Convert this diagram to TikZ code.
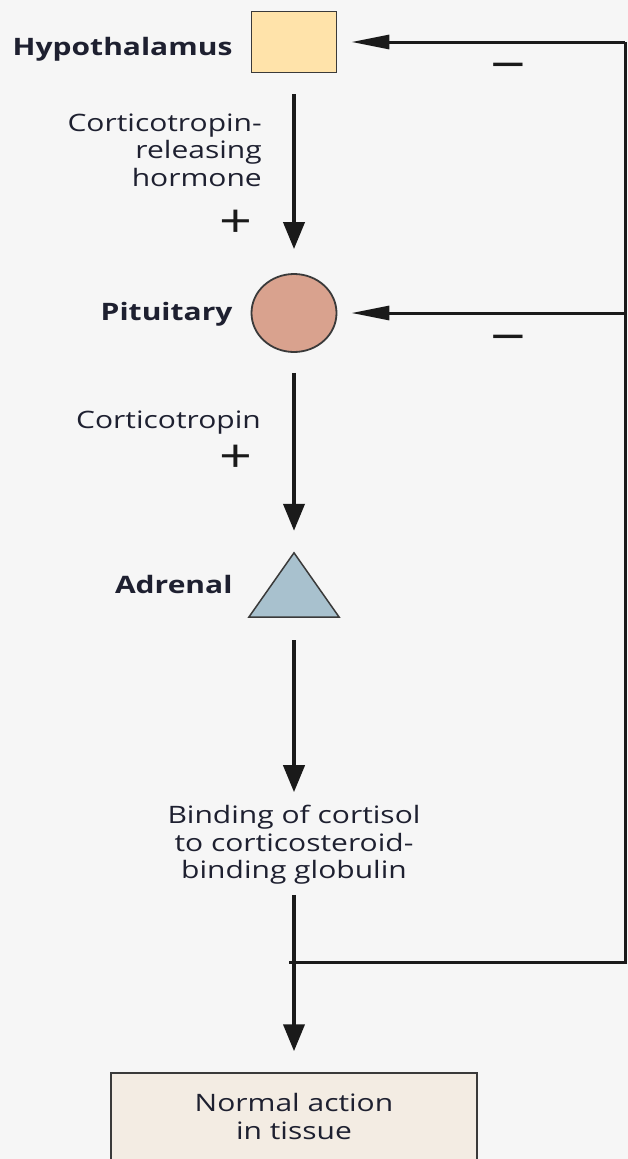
\documentclass[tikz,border=0pt]{standalone}
\usepackage{fontspec}
\setmainfont{Open Sans}[FakeStretch=1.25]
\usetikzlibrary{arrows.meta,shapes.geometric}
\definecolor{bg}{HTML}{F6F6F6}
\definecolor{txt}{HTML}{1E2030}
\definecolor{hypfill}{HTML}{FFE3AA}
\definecolor{pitfill}{HTML}{D9A28E}
\definecolor{adrfill}{HTML}{A8C1CE}
\definecolor{boxfill}{HTML}{F3ECE3}
\definecolor{edge}{HTML}{3A3A3A}
\definecolor{arr}{HTML}{1A1A1A}
\tikzset{
  organ/.style={draw=edge, line width=1.8pt, inner sep=0pt},
  organlabel/.style={anchor=base east, text=txt, font=\fontsize{24}{27.5}\selectfont\bfseries},
  hormone/.style={text=txt, font=\fontsize{24}{27.5}\selectfont, inner sep=0pt},
  sign/.style={text=arr, font=\fontsize{46}{46}\selectfont, inner sep=0pt},
  minussign/.style={text=arr, font=\fontsize{50}{50}\selectfont, inner sep=0pt},
  mainarrow/.style={draw=arr, line width=4pt, -{Triangle[width=21pt,length=27pt]}},
  fbline/.style={draw=arr, line width=3pt},
  fbarrow/.style={draw=arr, line width=3pt, -{Triangle[width=14pt,length=38pt]}},
}
\begin{document}
\begin{tikzpicture}[x=1pt,y=-1pt]
\useasboundingbox[fill=bg] (0,0) rectangle (628,1159);
% organs
\node[organ, fill=hypfill, rectangle, minimum width=85pt, minimum height=61pt] (hyp) at (294,42) {};
\node[organ, fill=pitfill, ellipse, minimum width=85pt, minimum height=78pt] (pit) at (294,313) {};
\node[inner sep=0pt, minimum width=90pt, minimum height=64pt] (adr) at (294,585) {};
\draw[fill=adrfill, draw=edge, line width=1.5pt, line join=miter] (adr.south west) -- (adr.south east) -- (adr.north) -- cycle;
\node[draw=edge, line width=1.5pt, fill=boxfill, rectangle, minimum width=366pt, minimum height=90pt, inner sep=0pt] (tissue) at (294,1118) {};
% labels
\node[organlabel] (hyplab) at (236,55) {Hypothalamus};
\node[organlabel] (pitlab) at (236,320.5) {Pituitary};
\node[organlabel] (adrlab) at (236,593.5) {Adrenal};
\node[hormone, align=right, anchor=east] (crh) at (262,150) {Corticotropin-\\releasing\\hormone};
\node[sign] (plus1) at (235.5,224) {+};
\node[hormone, anchor=base east] (acth) at (261,428.5) {Corticotropin};
\node[sign] (plus2) at (235.5,459) {+};
\node[hormone, align=center] (bind) at (294,845) {Binding of cortisol\\to corticosteroid-\\binding globulin};
\node[hormone, align=center] (tissuelab) at (294,1116.5) {Normal action\\in tissue};
\node[minussign] (minus1) at (508,73) {−};
\node[minussign] (minus2) at (508,345) {−};
% main arrows
\draw[mainarrow] ([yshift=-21pt]hyp.south) -- ([yshift=24pt]pit.north);
\draw[mainarrow] ([yshift=-20pt]pit.south) -- ([yshift=22pt]adr.north);
\draw[mainarrow] ([yshift=-23pt]adr.south) -- ([yshift=13pt]bind.north);
\draw[mainarrow] ([yshift=-10pt]bind.south) -- ([yshift=21pt]tissue.north);
% feedback
\coordinate (fbstart) at (289,962.5);
\coordinate (fbcorner) at (625,962.5);
\coordinate (fbtop) at (625,42);
\coordinate (fbmid) at (625,313);
\draw[fbline, line join=miter] (fbstart) -- (fbcorner) -- (fbtop |- hyp.east);
\draw[fbarrow] (fbtop |- hyp.east) -- ([xshift=14pt]hyp.east);
\draw[fbarrow] (fbmid |- pit.east) -- ([xshift=14pt]pit.east);
\end{tikzpicture}
\end{document}
